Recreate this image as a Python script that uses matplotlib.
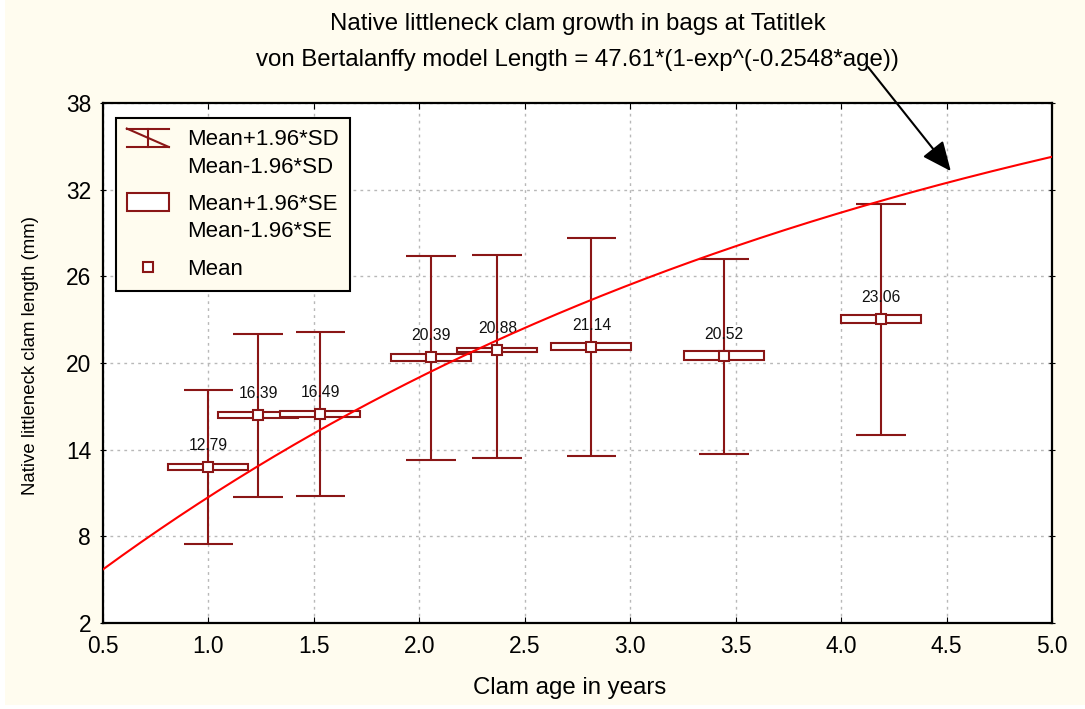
import numpy as np
import matplotlib
matplotlib.use("Agg")
import matplotlib.pyplot as plt
from matplotlib.patches import Rectangle
from matplotlib.lines import Line2D
from matplotlib.legend_handler import HandlerBase

plt.rcParams['font.family'] = ['Liberation Sans', 'DejaVu Sans']

# Data
age = [1.0, 1.236, 1.531, 2.054, 2.37, 2.816, 3.446, 4.19]
mean_len = [12.79, 16.39, 16.49, 20.39, 20.88, 21.14, 20.52, 23.06]
sd_hi = [18.13, 22.0, 22.15, 27.43, 27.5, 28.64, 27.22, 31.01]   # Mean+1.96*SD
sd_lo = [7.43, 10.71, 10.78, 13.28, 13.43, 13.57, 13.71, 15.03]   # Mean-1.96*SD
se_half = [0.2, 0.2, 0.2, 0.23, 0.14, 0.24, 0.29, 0.27]           # 1.96*SE
mean_labels = ["12.79", "16.39", "16.49", "20.39", "20.88", "21.14", "20.52", "23.06"]

# von Bertalanffy fit from the title
L_INF = 47.61
K = 0.2548

x_ticks = [0.5, 1.0, 1.5, 2.0, 2.5, 3.0, 3.5, 4.0, 4.5, 5.0]
y_ticks = [2, 8, 14, 20, 26, 32, 38]

DARK_RED = '#8a1616'
CREAM = '#fffcef'
BOX_HALF_W = 0.19
CAP_HALF_W = 0.118


class WhiskerHandler(HandlerBase):
    # Statistica-like whisker icon, lifted up to the first label line
    def __init__(self, shift):
        super().__init__()
        self.shift = shift

    def create_artists(self, legend, orig_handle, xdescent, ydescent,
                       width, height, fontsize, trans):
        x0 = -xdescent
        y0 = -ydescent + self.shift
        top = y0 + height
        mid = x0 + width / 2
        segs = [([x0, x0 + width], [top, top]),
                ([x0, x0 + width], [y0, y0]),
                ([mid, mid], [y0, top]),
                ([x0, x0 + width], [top, y0])]
        out = []
        for xs, ys in segs:
            ln = Line2D(xs, ys, color=DARK_RED, lw=1.5)
            ln.set_transform(trans)
            out.append(ln)
        return out


class BoxHandler(HandlerBase):
    def __init__(self, shift):
        super().__init__()
        self.shift = shift

    def create_artists(self, legend, orig_handle, xdescent, ydescent,
                       width, height, fontsize, trans):
        r = Rectangle((-xdescent, -ydescent + self.shift), width, height,
                      facecolor='white', edgecolor=DARK_RED, lw=1.5)
        r.set_transform(trans)
        return [r]


fig = plt.figure(figsize=(10.85, 7.09), dpi=100)
fig.patch.set_facecolor('white')
fig.add_artist(Rectangle((5 / 1085, 4 / 709), 1, 1, transform=fig.transFigure,
                         facecolor=CREAM, edgecolor='none', zorder=-10))
ax = fig.add_axes([0.0949, 0.1217, 0.9696 - 0.0949, 0.8543 - 0.1217])
ax.set_facecolor('white')

# SD whiskers
ax.vlines(age, sd_lo, sd_hi, color=DARK_RED, lw=1.5, zorder=2)
ax.hlines(sd_hi, np.array(age) - CAP_HALF_W, np.array(age) + CAP_HALF_W,
          color=DARK_RED, lw=1.5, zorder=2)
ax.hlines(sd_lo, np.array(age) - CAP_HALF_W, np.array(age) + CAP_HALF_W,
          color=DARK_RED, lw=1.5, zorder=2)

# SE boxes
for a, m, s in zip(age, mean_len, se_half):
    ax.add_patch(Rectangle((a - BOX_HALF_W, m - s), 2 * BOX_HALF_W, 2 * s,
                           facecolor='white', edgecolor=DARK_RED, lw=1.5, zorder=3))

# means
ax.plot(age, mean_len, ls='none', marker='s', ms=7, mfc='white',
        mec=DARK_RED, mew=1.5, zorder=4)

for a, m, lab in zip(age, mean_len, mean_labels):
    ax.annotate(lab, (a, m), xytext=(0, 21.5), textcoords='offset pixels',
                ha='center', va='center', fontsize=11.3, color='#111111', zorder=4)

# model curve
xc = np.linspace(0.5, 5.0, 300)
ax.plot(xc, L_INF * (1 - np.exp(-K * xc)), color='#ff0000', lw=1.5, zorder=5)

ax.set_xlim(0.5, 5.0)
ax.set_ylim(2, 38)
ax.set_xticks(x_ticks)
ax.set_xticklabels([f"{v:.1f}" for v in x_ticks])
ax.set_yticks(y_ticks)
ax.grid(True, color='#b8b8b8', ls=(0, (2, 3)), lw=1.0)
ax.set_axisbelow(True)
for sp in ax.spines.values():
    sp.set_linewidth(1.6)
    sp.set_color('black')
ax.tick_params(axis='x', direction='in', length=4, pad=9, labelsize=16.4,
               top=True, colors='black')
ax.tick_params(axis='y', direction='inout', length=5, pad=6, labelsize=16.4,
               right=True, colors='black')

ax.set_xlabel("Clam age in years", fontsize=17.3, va='center')
ax.xaxis.set_label_coords(0.492, -0.1257)
ax.set_ylabel("Native littleneck clam length (mm)", fontsize=13.4, va='center')
ax.yaxis.set_label_coords(-0.0759, 0.515)

ax.text(0.5, 1.152, "Native littleneck clam growth in bags at Tatitlek",
        transform=ax.transAxes, ha='center', va='center', fontsize=17.3)
ax.text(0.5, 1.0833, "von Bertalanffy model Length = 47.61*(1-exp^(-0.2548*age))",
        transform=ax.transAxes, ha='center', va='center', fontsize=17.3)

ax.annotate('', xy=(4.52, 33.3), xytext=(868, 642), textcoords='figure pixels',
            arrowprops=dict(arrowstyle='-|>,head_length=0.9,head_width=0.4',
                            mutation_scale=20, color='black', lw=1.5,
                            shrinkA=0, shrinkB=0),
            annotation_clip=False, zorder=6)

# legend
leg_fs = 16
shift = 11.7
sd_handle = object()
se_handle = object()
mean_handle = Line2D([], [], ls='none', marker='s', ms=7, mfc='white',
                     mec=DARK_RED, mew=1.5)
leg = ax.legend([sd_handle, se_handle, mean_handle],
                ["Mean+1.96*SD\nMean-1.96*SD", "Mean+1.96*SE\nMean-1.96*SE", "Mean"],
                handler_map={sd_handle: WhiskerHandler(shift),
                             se_handle: BoxHandler(shift)},
                loc='upper left', bbox_to_anchor=(0.0134, 0.971), borderaxespad=0,
                fontsize=leg_fs, handlelength=1.89, handleheight=0.9,
                handletextpad=0.81, labelspacing=0.72, borderpad=0.5,
                numpoints=1, fancybox=False, framealpha=1, facecolor=CREAM,
                edgecolor='black')
leg.get_frame().set_linewidth(1.5)
for t in leg.get_texts():
    t.set_linespacing(1.4)
leg.set_zorder(7)

fig.savefig("out.png", dpi=100, facecolor=fig.get_facecolor())
